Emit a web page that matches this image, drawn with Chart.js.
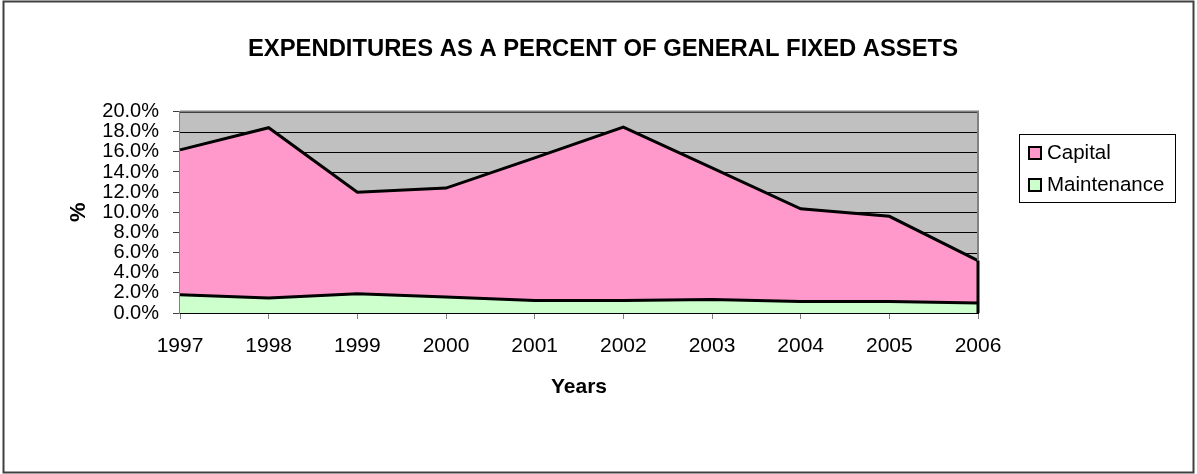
<!DOCTYPE html>
<html>
<head>
<meta charset="utf-8">
<script src="https://cdn.jsdelivr.net/npm/chart.js@4.4.1/dist/chart.umd.min.js"></script>
<style>
  html, body { margin: 0; padding: 0; background: #ffffff; }
  canvas { display: block; }
</style>
</head>
<body>
<canvas id="chart" width="1197" height="474"></canvas>
<script>
// Expenditures as a share of general fixed assets, in percent
const years = ['1997', '1998', '1999', '2000', '2001', '2002', '2003', '2004', '2005', '2006'];
const maintenance = [1.8, 1.5, 1.9, 1.6, 1.25, 1.25, 1.35, 1.15, 1.15, 1.0];
const capital = [14.4, 16.9, 10.1, 10.8, 14.15, 17.2, 13.05, 9.2, 8.45, 4.2];

const seriesNames = ['Capital', 'Maintenance'];
const seriesColors = ['#ff99cc', '#ccffcc'];

const chartTitle = 'EXPENDITURES AS A PERCENT OF GENERAL FIXED ASSETS';
const xAxisTitle = 'Years';
const yAxisTitle = '%';
const yMin = 0, yMax = 20, yStep = 2;

const FONT = '"Liberation Sans", Arial, sans-serif';

// Outer frame of the whole chart
const framePlugin = {
  id: 'frame',
  beforeDraw(chart) {
    const ctx = chart.ctx;
    ctx.save();
    ctx.fillStyle = '#ffffff';
    ctx.fillRect(0, 0, chart.width, chart.height);
    ctx.strokeStyle = '#404040';
    ctx.lineWidth = 2;
    ctx.strokeRect(3.5, 1.5, chart.width - 7, chart.height - 3);
    ctx.restore();
  }
};

// Grey plot background with the horizontal grid
const plotBackground = {
  id: 'plotBackground',
  beforeDatasetsDraw(chart) {
    const { ctx, chartArea: a } = chart;
    ctx.save();
    ctx.fillStyle = '#c0c0c0';
    ctx.fillRect(a.left, a.top, a.right - a.left, a.bottom - a.top);
    const y = chart.scales.y;
    ctx.strokeStyle = '#000000';
    ctx.lineWidth = 1;
    y.ticks.forEach(t => {
      const py = Math.round(y.getPixelForValue(t.value)) + 0.5;
      ctx.beginPath();
      ctx.moveTo(a.left, py);
      ctx.lineTo(a.right, py);
      ctx.stroke();
    });
    ctx.restore();
  }
};

// Plot border and the closing edge of the stacked areas at the last year
const areaEdges = {
  id: 'areaEdges',
  afterDatasetsDraw(chart) {
    const { ctx, chartArea: a } = chart;
    ctx.save();
    ctx.strokeStyle = '#808080';
    ctx.lineWidth = 2;
    ctx.beginPath();
    ctx.moveTo(a.left, a.top);
    ctx.lineTo(a.right, a.top);
    ctx.lineTo(a.right, a.bottom);
    ctx.stroke();

    const low = chart.getDatasetMeta(0).data;
    const high = chart.getDatasetMeta(1).data;
    const last = high.length - 1;
    const base = chart.scales.y.getPixelForValue(0);
    ctx.strokeStyle = '#000000';
    ctx.lineWidth = 3;
    ctx.beginPath();
    ctx.moveTo(high[last].x, high[last].y);
    ctx.lineTo(low[last].x, low[last].y);
    ctx.lineTo(low[last].x, base);
    ctx.stroke();
    ctx.restore();
  }
};

// Boxed legend on the right
const boxLegend = {
  id: 'boxLegend',
  afterDraw(chart) {
    const ctx = chart.ctx;
    const box = { left: 1019.5, top: 134.5, width: 156, height: 68 };
    ctx.save();
    ctx.strokeStyle = '#000000';
    ctx.lineWidth = 1;
    ctx.strokeRect(box.left, box.top, box.width, box.height);
    ctx.font = '20.5px ' + FONT;
    ctx.textBaseline = 'middle';
    ctx.textAlign = 'left';
    seriesNames.forEach((name, i) => {
      const cy = 153 + i * 32;
      ctx.fillStyle = seriesColors[i];
      ctx.fillRect(1029, cy - 6, 12, 12);
      ctx.strokeStyle = '#000000';
      ctx.lineWidth = 2;
      ctx.strokeRect(1029, cy - 6, 12, 12);
      ctx.fillStyle = '#000000';
      ctx.fillText(name, 1047, cy);
    });
    ctx.restore();
  }
};

new Chart(document.getElementById('chart'), {
  type: 'line',
  data: {
    labels: years,
    datasets: [
      {
        label: seriesNames[1],
        data: maintenance,
        backgroundColor: seriesColors[1],
        borderColor: '#000000',
        borderWidth: 3,
        fill: 'origin',
        tension: 0,
        pointRadius: 0,
        pointHoverRadius: 0,
        stack: 'spend'
      },
      {
        label: seriesNames[0],
        data: capital,
        backgroundColor: seriesColors[0],
        borderColor: '#000000',
        borderWidth: 3,
        fill: '-1',
        tension: 0,
        pointRadius: 0,
        pointHoverRadius: 0,
        stack: 'spend'
      }
    ]
  },
  options: {
    responsive: false,
    animation: false,
    devicePixelRatio: 1,
    layout: { padding: { left: 9, right: 0, top: 0, bottom: 74 } },
    plugins: {
      legend: { display: false },
      tooltip: { enabled: false },
      title: {
        display: true,
        text: chartTitle,
        color: '#000000',
        font: { family: FONT, size: 23.8, weight: 'bold', lineHeight: 1.2 },
        padding: { top: 35, bottom: 48 }
      }
    },
    scales: {
      x: {
        type: 'category',
        offset: false,
        afterFit(scale) { scale.height = 87; },
        grid: {
          display: true,
          drawOnChartArea: false,
          drawTicks: true,
          tickLength: 6,
          tickColor: '#808080',
          lineWidth: 1
        },
        border: { display: true, color: '#000000', width: 2 },
        ticks: {
          color: '#000000',
          font: { family: FONT, size: 21 },
          padding: 15,
          maxRotation: 0,
          autoSkip: false
        },
        title: {
          display: true,
          text: xAxisTitle,
          color: '#000000',
          font: { family: FONT, size: 21, weight: 'bold', lineHeight: 1.2 },
          padding: { top: 0, bottom: 0 }
        }
      },
      y: {
        stacked: true,
        min: yMin,
        max: yMax,
        afterFit(scale) { scale.width = 171; },
        grid: {
          display: true,
          drawOnChartArea: false,
          drawTicks: true,
          tickLength: 7,
          tickColor: '#404040',
          lineWidth: 1
        },
        border: { display: true, color: '#808080', width: 2 },
        ticks: {
          stepSize: yStep,
          autoSkip: false,
          color: '#000000',
          font: { family: FONT, size: 20 },
          padding: 14,
          callback: v => v.toFixed(1) + '%'
        },
        title: {
          display: true,
          text: yAxisTitle,
          color: '#000000',
          font: { family: FONT, size: 22, weight: 'bold', lineHeight: 1.2 },
          padding: { top: 57, bottom: 0 }
        }
      },
      // empty right-hand axis that keeps room for the legend
      yRight: {
        type: 'linear',
        position: 'right',
        min: yMin,
        max: yMax,
        afterFit(scale) { scale.width = 219; },
        grid: { display: false },
        border: { display: false },
        ticks: { display: false }
      }
    }
  },
  plugins: [framePlugin, plotBackground, areaEdges, boxLegend]
});
</script>
</body>
</html>
